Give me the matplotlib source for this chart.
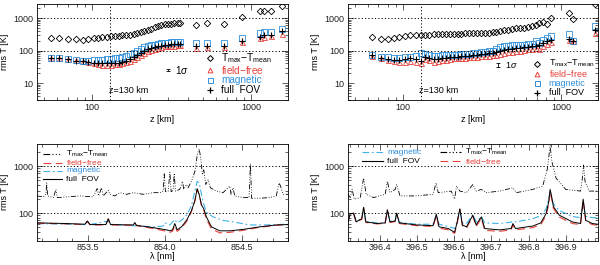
import matplotlib
matplotlib.use('Agg')
import matplotlib.pyplot as plt
from matplotlib.ticker import LogLocator, NullFormatter, MultipleLocator, FixedLocator

plt.rcParams['font.family'] = ['Liberation Sans', 'DejaVu Sans']
plt.rcParams['mathtext.fontset'] = 'custom'
plt.rcParams['mathtext.rm'] = 'Liberation Sans'
plt.rcParams['mathtext.it'] = 'Liberation Sans:italic'

RED = '#e8413a'
BLUE = '#2f8fdc'
CYAN = '#3fb2ea'

# ---- top left: rms T vs height (854.2 nm) ----
z_l = [55, 62, 70, 79, 87, 94, 102, 109, 116, 124, 131, 139, 147, 155, 164, 172, 182, 192,
       202, 213, 224, 235, 248, 260, 271, 285, 299, 313, 328, 344, 358,
       450, 530, 676, 875, 1140, 1200, 1330, 1560]
dT_l = [236, 236, 225, 220, 210, 225, 236, 248, 254, 266, 279, 279, 279, 293, 300, 307, 322, 338,
        363, 399, 429, 472, 519, 571, 613, 643, 659, 674, 690, 690, 690,
        630, 720, 660, 1040, 1650, 1700, 1650, 2300]
mag_l = [60, 57, 54, 51, 49, 49, 50, 50, 52, 54, 56, 58, 60, 64, 70, 78, 86, 98,
         112, 125, 136, 145, 152, 160, 168, 172, 176, 180, 182, 184, 185,
         165, 173, 165, 236, 337, 380, 380, 460]
ff_l = [60, 58, 55, 50, 46, 43, 40, 38, 37, 37, 37, 38, 39, 41, 44, 48, 54, 62,
        72, 83, 95, 105, 115, 122, 128, 133, 137, 140, 142, 143, 143,
        120, 125, 125, 180, 240, 260, 280, 320]
fov_l = [58, 57, 54, 49, 46, 44, 42, 41, 40, 40, 40, 41, 42, 45, 49, 55, 62, 72,
         84, 96, 108, 118, 128, 135, 142, 148, 152, 155, 157, 158, 158,
         135, 140, 135, 200, 270, 290, 300, 390]

# ---- top right: rms T vs height (396.8 nm) ----
z_r = [64, 73, 81, 88, 95, 103, 111, 120, 130, 138, 147, 157, 166, 176, 186, 197, 209, 221,
       234, 247, 262, 277, 293, 310, 328, 348, 368, 389, 412, 436, 461, 488, 517, 547,
       578, 612, 648, 686, 726, 768, 812, 860, 1110, 1190, 1620]
dT_r = [266, 230, 230, 240, 255, 275, 290, 300, 290, 310, 310, 320, 320, 320, 325, 325, 330,
        330, 330, 335, 335, 340, 345, 345, 350, 355, 360, 370, 390, 420, 440, 470, 480, 490,
        510, 540, 560, 620, 700, 780, 650, 1000, 1400, 950, 2700]
mag_r = [75, 65, 65, 60, 60, 62, 65, 70, 85, 78, 72, 70, 70, 72, 72, 73, 75, 75, 77, 78,
         80, 82, 85, 88, 90, 95, 100, 110, 125, 135, 140, 145, 145, 150, 150, 155, 160,
         190, 170, 210, 250, 280, 320, 200, 560]
ff_r = [70, 58, 50, 47, 45, 45, 48, 45, 40, 55, 50, 45, 47, 50, 52, 55, 57, 58, 60, 60,
        62, 63, 65, 66, 68, 70, 72, 75, 78, 82, 88, 92, 96, 100, 105, 110, 115, 120,
        110, 140, 160, 180, 210, 190, 340]
fov_r = [72, 60, 55, 52, 52, 55, 58, 56, 48, 65, 60, 55, 55, 57, 60, 62, 63, 65, 67, 68,
         70, 72, 74, 76, 78, 82, 85, 90, 95, 102, 108, 112, 118, 122, 125, 128, 133, 140,
         150, 170, 190, 210, 230, 195, 420]

# ---- bottom left: Ca II 854.2 nm ----
wl_dT_ca = [853.17, 853.211, 853.228, 853.233, 853.239, 853.276, 853.293, 853.302, 853.362,
            853.449, 853.535, 853.561, 853.57, 853.589, 853.6, 853.633, 853.643, 853.676,
            853.708, 853.752, 853.795, 853.86, 853.925, 853.968, 853.99, 853.996, 854.004,
            854.022, 854.033, 854.041, 854.054, 854.061, 854.069, 854.097, 854.115, 854.123,
            854.141, 854.151, 854.173, 854.195, 854.212, 854.223, 854.234, 854.244, 854.253,
            854.266, 854.281, 854.296, 854.335, 854.378, 854.422, 854.43, 854.443, 854.454,
            854.508, 854.547, 854.556, 854.564, 854.616, 854.681, 854.724, 854.742, 854.752,
            854.768, 854.8]
dT_ca = [232, 221, 251, 438, 232, 214, 319, 214, 221, 232, 221, 334, 232, 345, 232, 304, 251,
         232, 272, 251, 272, 251, 272, 272, 294, 705, 285, 294, 740, 285, 304, 705, 294, 319,
         474, 319, 405, 345, 474, 763, 1830, 2320, 1440, 652, 830, 405, 513, 345, 294, 272,
         374, 251, 345, 232, 214, 214, 1130, 207, 207, 214, 232, 438, 373, 251, 251]
wl_fov_ca = [853.17, 853.362, 853.481, 853.497, 853.514, 853.617, 853.633, 853.648, 853.795,
             853.805, 853.816, 853.925, 854.011, 854.033, 854.05, 854.065, 854.08, 854.108,
             854.141, 854.173, 854.195, 854.21, 854.223, 854.238, 854.253, 854.27, 854.303,
             854.357, 854.422, 854.508, 854.616, 854.724, 854.8]
fov_ca = [62, 60, 58, 68, 57, 57, 76, 57, 56, 63, 55, 49, 44, 42, 44, 60, 44, 51, 70, 113,
          183, 330, 250, 150, 123, 83, 51, 42, 42, 45, 51, 56, 57]
ff_ca = [61, 59, 57, 67, 56, 56, 74, 56, 55, 61, 54, 47, 41, 39, 41, 55, 41, 48, 66, 108,
         180, 320, 245, 145, 115, 75, 46, 38, 39, 43, 50, 55, 57]
wl_mag_ca = [853.17, 853.481, 853.497, 853.514, 853.633, 853.648, 853.795, 853.925, 853.99,
             854.0, 854.033, 854.065, 854.08, 854.108, 854.141, 854.173, 854.195, 854.21,
             854.223, 854.238, 854.253, 854.27, 854.313, 854.378, 854.443, 854.55, 854.66,
             854.8]
mag_ca = [60, 57, 65, 57, 68, 58, 54, 51, 53, 62, 56, 73, 62, 70, 90, 144, 294, 473, 438,
          251, 156, 105, 83, 70, 65, 56, 56, 58]

# ---- bottom right: Ca II H 396.8 nm ----
wl_h = [396.314, 396.32, 396.329, 396.336, 396.351, 396.356, 396.362, 396.392, 396.414,
        396.42, 396.427, 396.441, 396.445, 396.452, 396.499, 396.543, 396.552, 396.559,
        396.584, 396.601, 396.608, 396.615, 396.622, 396.633, 396.65, 396.659, 396.673,
        396.682, 396.722, 396.753, 396.758, 396.765, 396.811, 396.833, 396.847, 396.854,
        396.858, 396.861, 396.867, 396.883, 396.918, 396.94, 396.947, 396.954, 396.972,
        396.987]
fov_h = [65, 97, 100, 65, 76, 133, 65, 60, 62, 117, 65, 68, 100, 62, 56, 54, 94, 51, 47, 39,
         65, 123, 56, 51, 90, 56, 83, 47, 44, 47, 60, 47, 53, 62, 97, 169, 318, 251, 137, 90,
         65, 60, 198, 70, 60, 58]
ff_h = [64, 95, 98, 64, 74, 130, 63, 59, 60, 115, 63, 66, 97, 60, 54, 52, 90, 48, 44, 37,
        62, 120, 53, 48, 86, 52, 78, 43, 41, 44, 56, 44, 49, 57, 88, 150, 280, 230, 125, 82,
        60, 57, 190, 66, 57, 55]
mag_h = [62, 94, 100, 67, 75, 123, 67, 62, 62, 113, 67, 70, 100, 64, 58, 58, 94, 58, 52, 47,
         68, 117, 62, 60, 94, 65, 85, 62, 60, 64, 68, 65, 76, 88, 123, 198, 272, 232, 156,
         113, 85, 80, 169, 85, 80, 80]
wl_dT_h = [396.314, 396.32, 396.325, 396.331, 396.347, 396.356, 396.363, 396.383, 396.414,
           396.42, 396.427, 396.441, 396.445, 396.454, 396.499, 396.543, 396.551, 396.557,
           396.592, 396.601, 396.606, 396.615, 396.633, 396.65, 396.659, 396.673, 396.686,
           396.722, 396.758, 396.767, 396.811, 396.838, 396.851, 396.858, 396.863, 396.874,
           396.9, 396.94, 396.945, 396.948, 396.952, 396.963, 396.987]
dT_h = [251, 214, 319, 198, 214, 556, 251, 214, 251, 474, 272, 319, 405, 232, 232, 251, 438,
        272, 294, 198, 374, 294, 272, 405, 294, 319, 272, 294, 345, 272, 319, 374, 894, 2710,
        1230, 556, 319, 294, 556, 1050, 474, 294, 294]

DTDASH = (0, (6, 2, 1, 2, 1, 2, 1, 2))
FFDASH = (0, (7, 4))
MAGDASH = (0, (6, 2.5, 1.5, 2.5))
TMAX = r'T$_{\rm max}$$-$T$_{\rm mean}$'

fig = plt.figure(figsize=(6, 2.65), dpi=100)
ax1 = fig.add_axes([0.0617, 0.6226, 0.4183, 0.3623])
ax2 = fig.add_axes([0.58, 0.6226, 0.4167, 0.3623])
ax3 = fig.add_axes([0.0617, 0.092, 0.4183, 0.366])
ax4 = fig.add_axes([0.58, 0.092, 0.4167, 0.366])


def style(ax):
    ax.tick_params(which='both', direction='in', top=True, right=True, labelsize=6.5,
                   width=0.5, pad=2.5, colors='#222222')
    ax.tick_params(which='major', length=4)
    ax.tick_params(which='minor', length=2)
    for s in ax.spines.values():
        s.set_linewidth(0.6)
    for v in [100, 1000]:
        ax.axhline(v, color='k', ls=(0, (1.2, 2.2)), lw=0.7)
    ax.set_ylabel('rms T [K]', fontsize=6.5, labelpad=3)


def height_panel(ax, z, dT, ff, mag, fov, sig_x, sig_y, sig_err, leg_x, leg_rows, fs):
    ax.set_xscale('log')
    ax.set_yscale('log')
    ax.set_xlim(45, 1700)
    ax.set_ylim(3, 2700)
    ax.plot(z, dT, 'D', mfc='none', mec='k', ms=3.3, mew=0.6)
    ax.plot(z, ff, '^', mfc='none', mec=RED, ms=3.6, mew=0.6)
    ax.plot(z, mag, 's', mfc='none', mec=BLUE, ms=3.8, mew=0.6)
    ax.plot(z, fov, '+', color='k', ms=4.5, mew=0.8)
    ax.axvline(130, color='k', ls=(0, (1.2, 2.2)), lw=0.7)
    ax.text(0.285, 0.1, 'z=130 km', transform=ax.transAxes, fontsize=6.5, va='center')
    ax.errorbar([sig_x], [sig_y], yerr=[[sig_y * sig_err[0]], [sig_y * sig_err[1]]],
                fmt='none', ecolor='k', elinewidth=0.6, capsize=1.2, capthick=0.6)
    ax.text(sig_x * 1.1, sig_y, r'1$\sigma$', fontsize=fs, va='center')
    ax.set_xticks([100, 1000])
    ax.set_xticklabels(['100', '1000'])
    ax.xaxis.set_minor_locator(LogLocator(base=10, subs=range(2, 10)))
    ax.xaxis.set_minor_formatter(NullFormatter())
    ax.set_yticks([10, 100, 1000])
    ax.set_yticklabels(['10', '100', '1000'])
    ax.yaxis.set_minor_locator(LogLocator(base=10, subs=range(2, 10)))
    ax.yaxis.set_minor_formatter(NullFormatter())
    ax.set_xlabel('z [km]', fontsize=6.5, labelpad=2)
    labels = [(TMAX, 'k', 'D', 'k', 3.0), ('field$-$free', RED, '^', RED, 3.4),
              ('magnetic', BLUE, 's', BLUE, 3.6), ('full  FOV', 'k', '+', 'k', 4.5)]
    for (lab, c, m, mc, ms), yy in zip(labels, leg_rows):
        ax.plot([leg_x], [yy], m, transform=ax.transAxes, mfc='none', mec=mc, color=mc,
                ms=ms, mew=0.7 if m != '+' else 0.9, clip_on=False)
        ax.text(leg_x + 0.045, yy, lab, transform=ax.transAxes, color=c, fontsize=fs,
                va='center')
    style(ax)


height_panel(ax1, z_l, dT_l, ff_l, mag_l, fov_l, 300, 25, (0.06, 0.06), 0.69,
             [0.44, 0.315, 0.205, 0.10], 7.2)
height_panel(ax2, z_r, dT_r, ff_r, mag_r, fov_r, 400, 36, (0.15, 0.18), 0.757,
             [0.38, 0.275, 0.175, 0.075], 6.5)


def spectrum_panel(ax, wl_dT, dT, wl, ff, fov, wl_mag, mag):
    ax.set_yscale('log')
    ax.set_ylim(26, 3000)
    ax.plot(wl_dT, dT, color='k', ls=DTDASH, lw=0.6)
    ax.plot(wl_mag, mag, color=CYAN, ls=MAGDASH, lw=0.8)
    ax.plot(wl, ff, color=RED, ls=FFDASH, lw=0.8)
    ax.plot(wl, fov, color='k', lw=0.7)
    ax.set_yticks([100, 1000])
    ax.set_yticklabels(['100', '1000'])
    ax.yaxis.set_minor_locator(FixedLocator([30, 40, 50, 60, 70, 80, 90,
                                             200, 300, 400, 500, 600, 700, 800, 900, 2000]))
    ax.yaxis.set_minor_formatter(NullFormatter())
    ax.set_xlabel('λ [nm]', fontsize=6.5, labelpad=0)
    style(ax)
    ax.tick_params(axis='x', pad=2)


spectrum_panel(ax3, wl_dT_ca, dT_ca, wl_fov_ca, ff_ca, fov_ca, wl_mag_ca, mag_ca)
ax3.set_xlim(853.17, 854.80)
ax3.xaxis.set_major_locator(MultipleLocator(0.5))
ax3.xaxis.set_minor_locator(MultipleLocator(0.1))
ax3.xaxis.set_major_formatter(plt.FormatStrFormatter('%.1f'))

spectrum_panel(ax4, wl_dT_h, dT_h, wl_h, ff_h, fov_h, wl_h, mag_h)
ax4.set_xlim(396.314, 396.987)
ax4.xaxis.set_major_locator(MultipleLocator(0.1))
ax4.xaxis.set_minor_locator(MultipleLocator(0.02))
ax4.xaxis.set_major_formatter(plt.FormatStrFormatter('%.1f'))

# bottom legends
leg_l = [(TMAX, 'k', DTDASH), ('field$-$free', RED, FFDASH),
         ('magnetic', BLUE, MAGDASH), ('full  FOV', 'k', '-')]
for (lab, c, ls), yy in zip(leg_l, [0.89, 0.805, 0.72, 0.635]):
    ax3.plot([0.024, 0.10], [yy, yy], transform=ax3.transAxes, color=CYAN if c == BLUE else c,
             ls=ls, lw=0.8)
    ax3.text(0.116, yy, lab, transform=ax3.transAxes, color=c, fontsize=6, va='center')

leg_r = [('magnetic', BLUE, MAGDASH, 0.056, 0.91), ('full  FOV', 'k', '-', 0.056, 0.82),
         (TMAX, 'k', DTDASH, 0.368, 0.91), ('field$-$free', RED, FFDASH, 0.368, 0.82)]
for lab, c, ls, xx, yy in leg_r:
    ax4.plot([xx, xx + 0.085], [yy, yy], transform=ax4.transAxes,
             color=CYAN if c == BLUE else c, ls=ls, lw=0.8)
    ax4.text(xx + 0.1, yy, lab, transform=ax4.transAxes, color=c, fontsize=6, va='center')

fig.savefig('out.png', dpi=100)
